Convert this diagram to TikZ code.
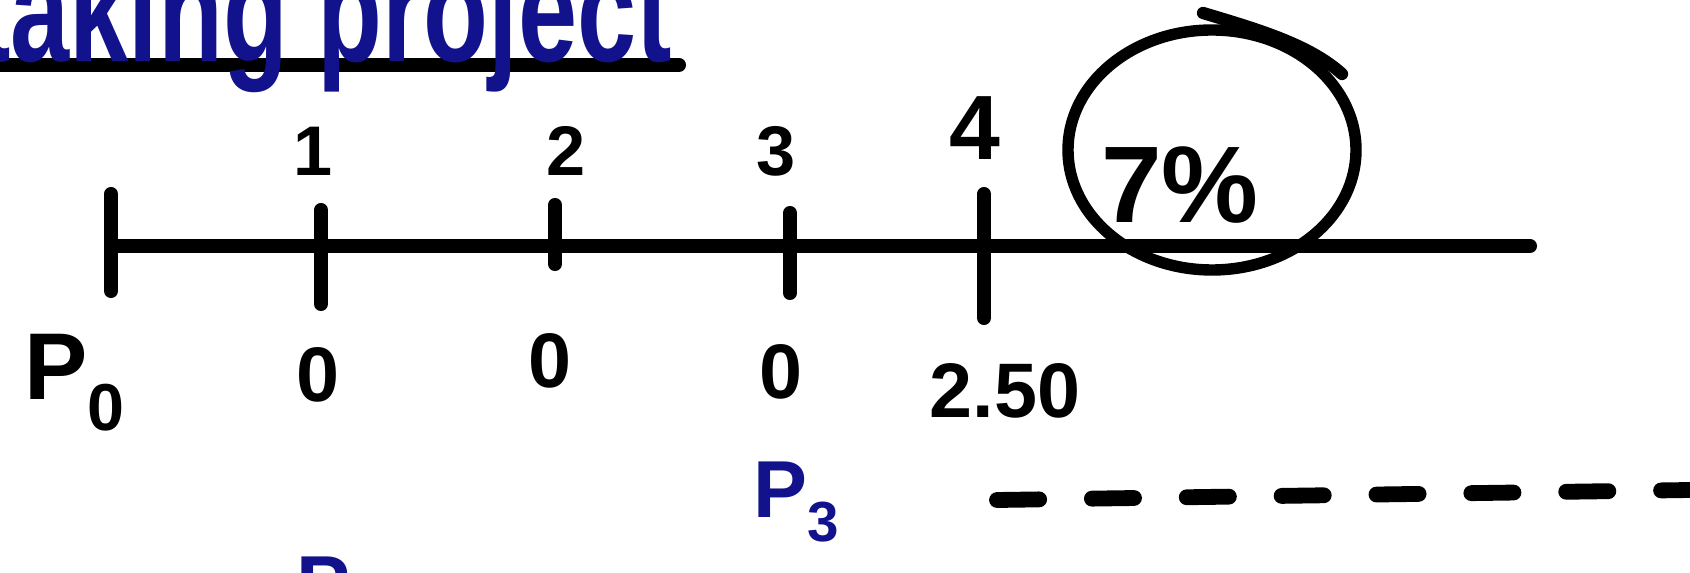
\documentclass[tikz,border=0pt]{standalone}
\usepackage{fontspec}
\setmainfont{Liberation Sans}
\usepackage{xcolor}
\usetikzlibrary{positioning}
\definecolor{inkblue}{RGB}{18,18,140}

\begin{document}
\begin{tikzpicture}[x=0.02cm, y=-0.02cm,
  every node/.style={inner sep=0pt},
  ink/.style={line width=8pt, line cap=round},
  num/.style={font=\fontsize{#1}{#1}\selectfont\bfseries},
  pen/.style={text=inkblue, font=\fontsize{#1}{#1}\selectfont\bfseries},
]
\useasboundingbox (0,0) rectangle (1690,573);
\clip (0,0) rectangle (1690,573);

% heading, cut off at the top
\draw[ink] (0,65) -- (679,65);
\node[pen=84, anchor=base west] (head) at (-25,62) {\scalebox{0.72}[1]{taking project}};

% time line
\coordinate (start) at (111,246);
\coordinate (end) at (1530,246);
\draw[ink] (start) -- (end);
\foreach \x/\a/\b in {111/194/291, 321/210/304, 555/205/264, 790/213/293, 984/194/318}
  \draw[ink] (\x,\a) -- (\x,\b);

\node[num=40] (y1) at (313,151) {1};
\node[num=40] (y2) at (566,151) {2};
\node[num=40] (y3) at (776,151) {3};
\node[num=52] (y4) at (975,128) {4};

\node[num=54] (p0) at (75,383) {P\textsubscript{0}};
\node[num=44] (c1) at (318,375) {0};
\node[num=44] (c2) at (550,361) {0};
\node[num=44] (c3) at (781,372) {0};
\node[num=44] (c4) at (1005,391) {2.50};

% rate, circled
\node[num=62] (rate) at (1180,185) {7\%};
\draw[line width=6.5pt] (1212,150) ellipse [x radius=144, y radius=120];
\draw[line width=7pt, line cap=round] (1203,13) .. controls (1260,30) and (1310,45) .. (1342,74);

\node[pen=46] (p3) at (797,502) {P\textsubscript{3}};
\node[pen=46, anchor=north] (pnext) at (323,557) {P};

% dashed rule
\draw[line width=9pt, line cap=round, dash pattern=on 24pt off 30pt] (997,500) -- (1690,490);
\end{tikzpicture}
\end{document}
